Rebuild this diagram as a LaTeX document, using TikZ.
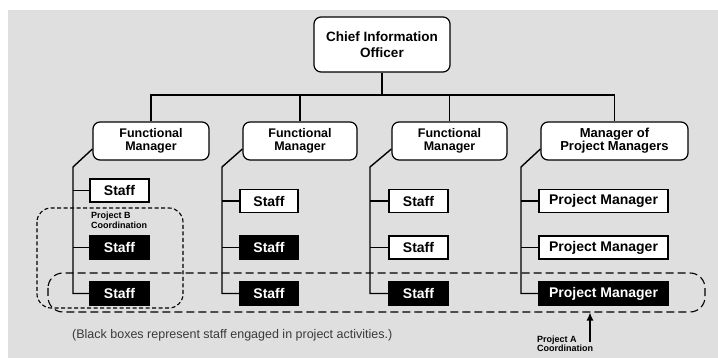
\documentclass[tikz,border=0pt]{standalone}
\usepackage{fontspec}
\setmainfont{Liberation Sans}
\usetikzlibrary{arrows.meta,calc}
\definecolor{bggray}{HTML}{DFDFDF}
\definecolor{captext}{HTML}{3A3A3A}
\tikzset{
  mgr/.style={draw=black,line width=1.2pt,fill=white,rounded corners=7pt,align=center,inner sep=0pt,font=\bfseries\fontsize{12.5}{12.5}\selectfont},
  wbox/.style={draw=black,line width=1.2pt,fill=white,inner sep=0pt,minimum height=23pt,font=\bfseries\fontsize{14}{14}\selectfont},
  bbox/.style={draw=black,line width=1.2pt,fill=black,text=white,inner sep=0pt,minimum height=23pt,font=\bfseries\fontsize{14}{14}\selectfont},
  conn/.style={line width=1.4pt,black},
  dashA/.style={line width=1.1pt,dash pattern=on 8pt off 4pt,rounded corners=15pt},
  dashB/.style={line width=1.1pt,dash pattern=on 4pt off 2.5pt,rounded corners=14pt},
  small/.style={font=\bfseries\fontsize{9}{10.5}\selectfont,align=left,inner sep=0pt}
}
\begin{document}
\begin{tikzpicture}[x=1pt,y=-1pt]
\useasboundingbox (0,0) rectangle (718,358);
\fill[white] (0,0) rectangle (718,358);
\fill[bggray] (8,10) rectangle (718,358);

% top
\node[mgr,minimum width=136pt,minimum height=55pt,font=\bfseries\fontsize{13.5}{16}\selectfont] (cio) at (382,44.5) {Chief Information\\Officer};
\node[mgr,minimum width=116pt,minimum height=38pt] (fm1) at (151,141) {Functional\\Manager};
\node[mgr,minimum width=114pt,minimum height=38pt] (fm2) at (300,141) {Functional\\Manager};
\node[mgr,minimum width=115pt,minimum height=38pt] (fm3) at (449.5,141) {Functional\\Manager};
\node[mgr,minimum width=147pt,minimum height=38pt,font=\bfseries\fontsize{13}{13}\selectfont] (mpm) at (614.5,141) {Manager of\\Project Managers};

\coordinate (bus) at (0,95);
\draw[conn] (cio.south) -- (cio.south |- bus);
\draw[conn] (fm1.north) |- (mpm.north |- bus) -- (mpm.north);
\draw[conn] (fm2.north) -- (fm2.north |- bus);
\draw[conn] (fm3.north) -- (fm3.north |- bus);

% column 1
\node[wbox,minimum width=59pt] (s11) at (119.5,190.5) {Staff};
\node[bbox,minimum width=59pt] (s12) at (119.5,247.5) {Staff};
\node[bbox,minimum width=59pt] (s13) at (119.5,293.5) {Staff};
% column 2
\node[wbox,minimum width=58pt] (s21) at (269,201) {Staff};
\node[bbox,minimum width=58pt] (s22) at (269,247.5) {Staff};
\node[bbox,minimum width=58pt] (s23) at (269,293.5) {Staff};
% column 3
\node[wbox,minimum width=59pt] (s31) at (418.5,201) {Staff};
\node[wbox,minimum width=59pt] (s32) at (418.5,247.5) {Staff};
\node[bbox,minimum width=59pt] (s33) at (418.5,293.5) {Staff};
% column 4
\node[wbox,minimum width=129pt] (p1) at (603.5,201) {Project Manager};
\node[wbox,minimum width=129pt] (p2) at (603.5,247.5) {Project Manager};
\node[bbox,minimum width=129pt] (p3) at (603.5,293.5) {Project Manager};

\coordinate (t1) at (73,167);
\coordinate (t2) at (222,167);
\coordinate (t3) at (370,167);
\coordinate (t4) at (521,167);

\draw[conn] ([yshift=-8pt]fm1.west) -- (t1) |- (s13.west);
\draw[conn] (t1 |- s11) -- (s11.west);
\draw[conn] (t1 |- s12) -- (s12.west);

\draw[conn] ([yshift=-8pt]fm2.west) -- (t2) |- (s23.west);
\draw[conn] (t2 |- s21) -- (s21.west);
\draw[conn] (t2 |- s22) -- (s22.west);

\draw[conn] ([yshift=-8pt]fm3.west) -- (t3) |- (s33.west);
\draw[conn] (t3 |- s31) -- (s31.west);
\draw[conn] (t3 |- s32) -- (s32.west);

\draw[conn] ([yshift=-8pt]mpm.west) -- (t4) |- (p3.west);
\draw[conn] (t4 |- p1) -- (p1.west);
\draw[conn] (t4 |- p2) -- (p2.west);

% dashed groupings
\draw[dashB] (37,208) rectangle (183,308);
\draw[dashA] (48,273) rectangle (705,312);

\node[small,anchor=north west] (pb) at (91,211.5) {Project B\\Coordination};

% Project A arrow and label
\coordinate (afoot) at (590,342);
\coordinate (atip) at (590,312.5);
\draw[line width=1.3pt,-{Latex[length=8pt,width=7pt]}] (afoot) -- (atip);
\node[small,anchor=north west,font=\bfseries\fontsize{9}{9.5}\selectfont] (pa) at (537,335.5) {Project A\\Coordination};

% caption
\node[anchor=base west,inner sep=0pt,text=captext,font=\fontsize{12.5}{14}\selectfont] (cap) at (72,338) {(Black boxes represent staff engaged in project activities.)};
\end{tikzpicture}
\end{document}
